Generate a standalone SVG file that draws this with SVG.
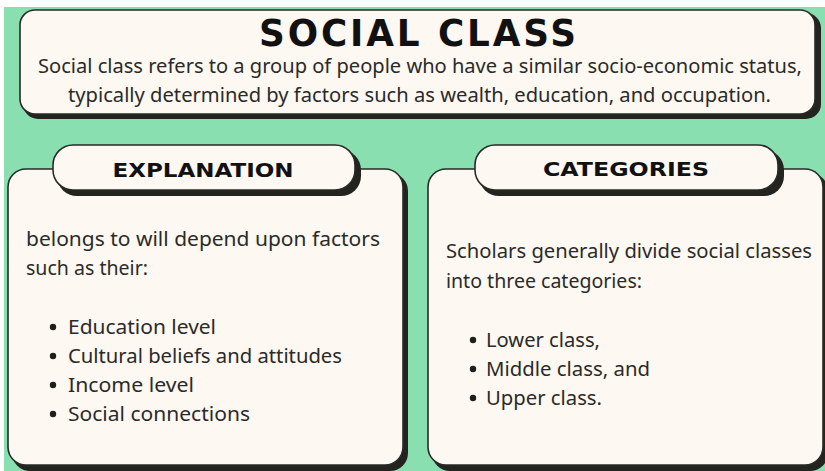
<svg xmlns="http://www.w3.org/2000/svg" width="825" height="471" viewBox="0 0 825 471">
<style>
.card{fill:#fdf8f1;stroke:#2a2a26;stroke-width:1.6}
.shadow{fill:#23231f}
.title{font-family:"DejaVu Sans","Liberation Sans",sans-serif;font-weight:bold;fill:#111;text-anchor:middle}
.body{font-family:"Noto Sans","Liberation Sans",sans-serif;fill:#2a2a2a;font-size:20px}
.dot{fill:#1e1e1e}
</style>
<rect x="0" y="0" width="825" height="471" fill="#ffffff"/>
<rect x="4" y="7" width="821" height="464" fill="#8adfb0"/>

<g id="header">
  <rect class="shadow" x="23" y="13" width="798" height="106" rx="15"/>
  <rect class="card" x="20" y="10" width="795" height="104" rx="15"/>
  <text class="title" x="419" y="46" font-size="37" letter-spacing="3" textLength="320" lengthAdjust="spacingAndGlyphs">SOCIAL CLASS</text>
  <text class="body" x="38" y="73" textLength="764" lengthAdjust="spacingAndGlyphs">Social class refers to a group of people who have a similar socio-economic status,</text>
  <text class="body" x="68" y="102" textLength="703" lengthAdjust="spacingAndGlyphs">typically determined by factors such as wealth, education, and occupation.</text>
</g>

<g id="explanation">
  <rect class="shadow" x="12" y="173" width="396" height="298" rx="18"/>
  <rect class="card" x="8" y="169" width="395" height="296" rx="18"/>
  <rect class="shadow" x="57" y="150" width="304" height="46" rx="20"/>
  <rect class="card" x="53" y="145" width="302" height="45" rx="20"/>
  <text class="title" x="203" y="177" font-size="19" textLength="181" lengthAdjust="spacingAndGlyphs">EXPLANATION</text>
  <text class="body" x="26" y="246" textLength="354" lengthAdjust="spacingAndGlyphs">belongs to will depend upon factors</text>
  <text class="body" x="26" y="275" textLength="122" lengthAdjust="spacingAndGlyphs">such as their:</text>
  <circle class="dot" cx="53" cy="327" r="3.2"/>
  <text class="body" x="68" y="334" textLength="148" lengthAdjust="spacingAndGlyphs">Education level</text>
  <circle class="dot" cx="53" cy="356" r="3.2"/>
  <text class="body" x="68" y="363" textLength="274" lengthAdjust="spacingAndGlyphs">Cultural beliefs and attitudes</text>
  <circle class="dot" cx="53" cy="385" r="3.2"/>
  <text class="body" x="68" y="392" textLength="126" lengthAdjust="spacingAndGlyphs">Income level</text>
  <circle class="dot" cx="53" cy="414" r="3.2"/>
  <text class="body" x="68" y="421" textLength="182" lengthAdjust="spacingAndGlyphs">Social connections</text>
</g>

<g id="categories">
  <rect class="shadow" x="432" y="173" width="396" height="298" rx="18"/>
  <rect class="card" x="428" y="169" width="395" height="296" rx="18"/>
  <rect class="shadow" x="479" y="150" width="305" height="46" rx="20"/>
  <rect class="card" x="475" y="145" width="303" height="45" rx="20"/>
  <text class="title" x="626" y="176" font-size="19" textLength="166" lengthAdjust="spacingAndGlyphs">CATEGORIES</text>
  <text class="body" x="446" y="258" textLength="366" lengthAdjust="spacingAndGlyphs">Scholars generally divide social classes</text>
  <text class="body" x="446" y="288" textLength="196" lengthAdjust="spacingAndGlyphs">into three categories:</text>
  <circle class="dot" cx="473" cy="340" r="3.2"/>
  <text class="body" x="486" y="347" textLength="114" lengthAdjust="spacingAndGlyphs">Lower class,</text>
  <circle class="dot" cx="473" cy="369" r="3.2"/>
  <text class="body" x="486" y="376" textLength="164" lengthAdjust="spacingAndGlyphs">Middle class, and</text>
  <circle class="dot" cx="473" cy="398" r="3.2"/>
  <text class="body" x="486" y="405" textLength="116" lengthAdjust="spacingAndGlyphs">Upper class.</text>
</g>

<g id="connectors"></g>
</svg>
